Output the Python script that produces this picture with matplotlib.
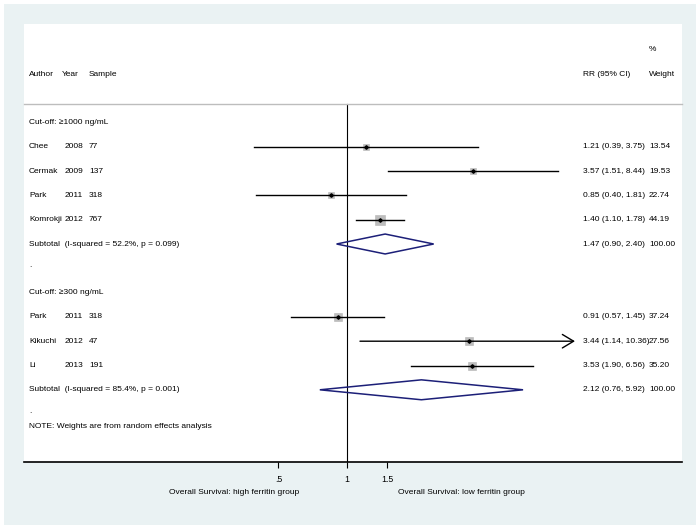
import numpy as np
import matplotlib
matplotlib.use("Agg")
import matplotlib.pyplot as plt
from matplotlib import font_manager
from matplotlib.patches import Rectangle, Polygon
from matplotlib.transforms import blended_transform_factory

# ---------------- data ----------------
groups = ["Cut-off: \u22651000 ng/mL", "Cut-off: \u2265300 ng/mL"]
authors = ["Chee", "Cermak", "Park", "Komrokji", "Park", "Kikuchi", "Li"]
years = [2008, 2009, 2011, 2012, 2011, 2012, 2013]
samples = [77, 137, 318, 767, 318, 47, 191]
group_of = [0, 0, 0, 0, 1, 1, 1]
rr = [1.21, 3.57, 0.85, 1.40, 0.91, 3.44, 3.53]
rr_lo = [0.39, 1.51, 0.40, 1.10, 0.57, 1.14, 1.90]
rr_hi = [3.75, 8.44, 1.81, 1.78, 1.45, 10.36, 6.56]
weights = [13.54, 19.53, 22.74, 44.19, 37.24, 27.56, 35.20]
sub_rr = [1.47, 2.12]
sub_lo = [0.90, 0.76]
sub_hi = [2.40, 5.92]
sub_i2 = [52.2, 85.4]
sub_p = [0.099, 0.001]
sub_w = [100.00, 100.00]
x_ticks = [0.5, 1, 1.5]
x_ticklabels = [".5", "1", "1.5"]
x_clip = 10
note = "NOTE: Weights are from random effects analysis"
label_left = "Overall Survival: high ferritin group"
label_right = "Overall Survival: low ferritin group"

# ---------------- fonts ----------------
def has_font(name):
    try:
        font_manager.findfont(font_manager.FontProperties(family=name), fallback_to_default=False)
        return True
    except Exception:
        return False

if has_font("Liberation Sans Narrow"):
    FAM = ["Liberation Sans Narrow", "Liberation Sans", "DejaVu Sans"]
    FS = 6.8
else:
    FAM = ["Liberation Sans", "DejaVu Sans"]
    FS = 6.0
plt.rcParams["font.family"] = FAM
plt.rcParams["font.size"] = FS

W, H = 700, 529
fig = plt.figure(figsize=(W / 100, H / 100), dpi=100, facecolor="white")
bg = Rectangle((4 / W, 4 / H), 692 / W, 521 / H, transform=fig.transFigure,
               facecolor="#EAF2F3", edgecolor="none", zorder=-10)
fig.patches.append(bg)

L, R, T, B = 24, 682, 24, 462
ax = fig.add_axes([L / W, 1 - B / H, (R - L) / W, (B - T) / H])
ax.set_zorder(5)
ax.set_facecolor("white")

# px mapping: x_px = 347 + 99*ln(RR)
xmin = np.exp((L - 347) / 99.0)
xmax = np.exp((R - 347) / 99.0)
ax.set_xscale("log")
ax.set_xlim(xmin, xmax)
row0, dy = 122.5, 24.3
ax.set_ylim((B - row0) / dy, (T - row0) / dy)

for s in ["top", "left", "right"]:
    ax.spines[s].set_visible(False)
ax.spines["bottom"].set_linewidth(1.2)
ax.set_yticks([])
ax.set_xticks(x_ticks)
ax.set_xticklabels(x_ticklabels)
ax.xaxis.set_minor_locator(matplotlib.ticker.NullLocator())
ax.tick_params(axis="x", length=4, width=0.8, pad=5.5, labelsize=FS + 0.3, color="black")

tr = blended_transform_factory(ax.transAxes, ax.transData)
def fx(px):
    return (px - L) / (R - L)

col_author, col_year, col_sample = fx(29), fx(65), fx(89)
col_ci, col_w = fx(583), fx(649)

# headers
ax.text(fx(29), (75 - row0) / dy, "Author", transform=tr, va="center", ha="left")
ax.text(fx(62), (75 - row0) / dy, "Year", transform=tr, va="center", ha="left")
ax.text(col_sample, (75 - row0) / dy, "Sample", transform=tr, va="center", ha="left")
ax.text(col_ci, (75 - row0) / dy, "RR (95% CI)", transform=tr, va="center", ha="left")
ax.text(col_w, (75 - row0) / dy, "Weight", transform=tr, va="center", ha="left")
ax.text(col_w, (50 - row0) / dy, "%", transform=tr, va="center", ha="left")
ax.plot([0, 1], [(104 - row0) / dy] * 2, transform=tr, color="#BDBDBD", lw=1.0, clip_on=False)

# null line
ax.plot([1, 1], [(104 - row0) / dy, (B - row0) / dy], color="black", lw=0.8, zorder=1)

navy = "#1C1F78"
k = 9.5 / np.sqrt(max(weights))
row = 0
author_texts = []
for g, gname in enumerate(groups):
    ax.text(col_author, row, gname, transform=tr, va="center", ha="left")
    row += 1
    for i in [j for j in range(len(authors)) if group_of[j] == g]:
        t = ax.text(col_author, row, authors[i], transform=tr, va="center", ha="left")
        author_texts.append((t, i, row))
        ax.text(col_sample, row, str(samples[i]), transform=tr, va="center", ha="left")
        ax.text(col_ci, row, f"{rr[i]:.2f} ({rr_lo[i]:.2f}, {rr_hi[i]:.2f})", transform=tr, va="center", ha="left")
        ax.text(col_w, row, f"{weights[i]:.2f}", transform=tr, va="center", ha="left")
        side = k * np.sqrt(weights[i]) * 0.72
        ax.plot([rr[i]], [row], marker="s", ms=side, mfc="#BDBDBD", mec="#B5B5B5", mew=0.4, ls="none", zorder=2)
        hi = min(rr_hi[i], x_clip)
        if rr_hi[i] > x_clip:
            ax.annotate("", xy=(hi, row), xytext=(rr_lo[i], row),
                        arrowprops=dict(arrowstyle="->,head_length=0.45,head_width=0.27",
                                        lw=1.0, color="black", shrinkA=0, shrinkB=0, mutation_scale=18),
                        zorder=3)
        else:
            ax.plot([rr_lo[i], hi], [row, row], color="black", lw=1.0, zorder=3)
        ax.plot([rr[i]], [row], marker="D", ms=1.8, color="black", ls="none", zorder=4)
        row += 1
    # subtotal
    ax.text(col_author, row, f"Subtotal  (I-squared = {sub_i2[g]:.1f}%, p = {sub_p[g]:.3f})",
            transform=tr, va="center", ha="left")
    ax.text(col_ci, row, f"{sub_rr[g]:.2f} ({sub_lo[g]:.2f}, {sub_hi[g]:.2f})", transform=tr, va="center", ha="left")
    ax.text(col_w, row, f"{sub_w[g]:.2f}", transform=tr, va="center", ha="left")
    hh = 0.41
    ax.add_patch(Polygon([[sub_lo[g], row], [sub_rr[g], row - hh], [sub_hi[g], row], [sub_rr[g], row + hh]],
                         closed=True, fill=False, edgecolor=navy, lw=1.1, zorder=3))
    row += 1
    ax.text(col_author, row - 0.1, ".", transform=tr, va="center", ha="left")
    row += 1
row -= 1
ax.text(col_author, row + 0.5, note, transform=tr, va="center", ha="left")

# x-axis group labels
fig.text(299 / W, 1 - 493 / H, label_left, ha="right", va="center", fontsize=FS)
fig.text(398 / W, 1 - 493 / H, label_right, ha="left", va="center", fontsize=FS)

# place years after authors (avoid overlap for long names)
fig.canvas.draw()
renderer = fig.canvas.get_renderer()
inv = ax.transAxes.inverted()
for t, i, r in author_texts:
    bb = t.get_window_extent(renderer)
    right_ax = inv.transform((bb.x1 + 2, bb.y0))[0]
    ax.text(max(col_year, right_ax), r, str(years[i]), transform=tr, va="center", ha="left")

fig.savefig("out.png", dpi=100, facecolor="white")
